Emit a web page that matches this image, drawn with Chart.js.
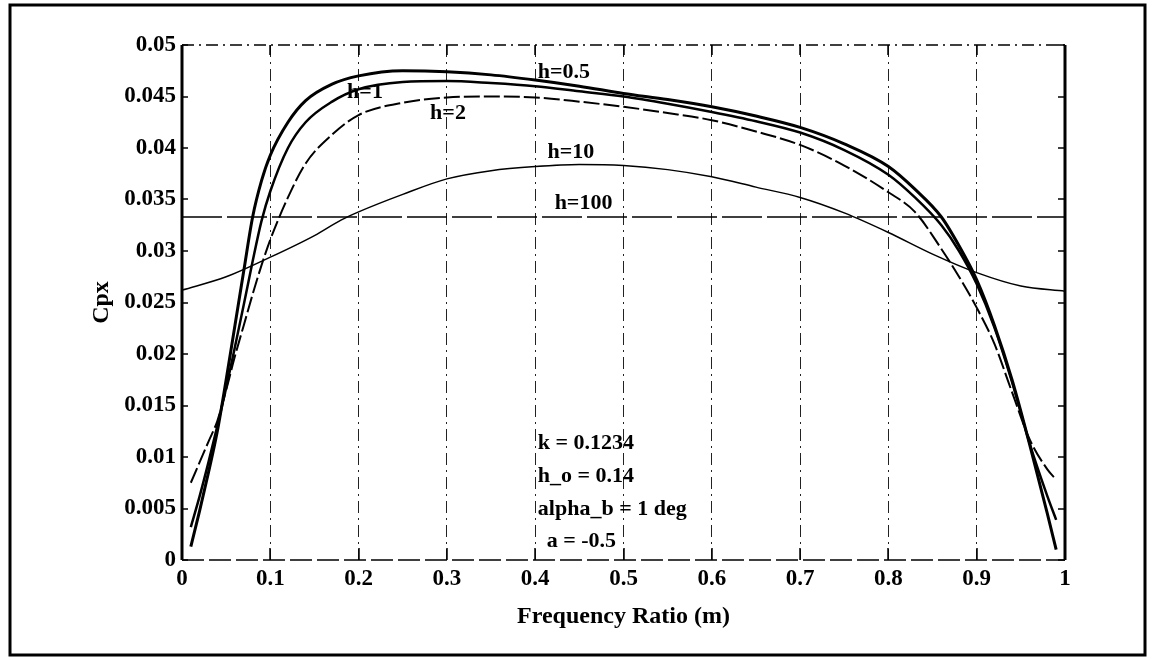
<!DOCTYPE html>
<html>
<head>
<meta charset="utf-8">
<script src="https://cdn.jsdelivr.net/npm/chart.js@4.4.0/dist/chart.umd.min.js"></script>
<style>
html,body{margin:0;padding:0;background:#fff;}
#wrap{width:1153px;height:660px;position:relative;}
</style>
</head>
<body>
<div id="wrap"><canvas id="c" width="1153" height="660"></canvas></div>
<script>
// ---- tick values / labels ----
const xTicks = [0,0.1,0.2,0.3,0.4,0.5,0.6,0.7,0.8,0.9,1];
const xTickLabels = ['0','0.1','0.2','0.3','0.4','0.5','0.6','0.7','0.8','0.9','1'];
const yTicks = [0,0.005,0.01,0.015,0.02,0.025,0.03,0.035,0.04,0.045,0.05];
const yTickLabels = ['0','0.005','0.01','0.015','0.02','0.025','0.03','0.035','0.04','0.045','0.05'];

// ---- series (frequency ratio m vs Cpx) ----
const mSteep = [0.01,0.02,0.03,0.04,0.05,0.06,0.07,0.08,0.09,0.10,0.12,0.14,0.17,0.20,0.25,0.30,0.35,0.40,0.45,0.50,0.55,0.60,0.65,0.70,0.75,0.80,0.83,0.86,0.88,0.90,0.92,0.94,0.96,0.98,0.99];
const cpH05 = [0.0013,0.0048,0.0085,0.0125,0.0175,0.0228,0.0281,0.0333,0.0368,0.0393,0.0425,0.0446,0.0462,0.0470,0.0475,0.0474,0.0471,0.0466,0.0460,0.0453,0.0447,0.0440,0.0431,0.0420,0.0404,0.0382,0.0360,0.0333,0.0305,0.0272,0.0228,0.0175,0.0112,0.0045,0.0010];
const cpH1  = [0.0032,0.0062,0.0095,0.0130,0.0167,0.0207,0.0248,0.0290,0.0329,0.0358,0.0400,0.0425,0.0445,0.0457,0.0464,0.0465,0.0463,0.0460,0.0455,0.0450,0.0443,0.0435,0.0426,0.0415,0.0398,0.0374,0.0352,0.0325,0.0300,0.0268,0.0226,0.0173,0.0113,0.0062,0.0039];
const cpH2  = [0.0075,0.0095,0.0115,0.0135,0.0165,0.0198,0.0228,0.0258,0.0286,0.0311,0.0352,0.0385,0.0413,0.0432,0.0444,0.0449,0.0450,0.0449,0.0445,0.0440,0.0434,0.0427,0.0416,0.0403,0.0383,0.0357,0.0338,0.0302,0.0275,0.0245,0.0210,0.0163,0.0117,0.0088,0.0078];
const mH10  = [0,0.05,0.10,0.15,0.18,0.20,0.25,0.30,0.35,0.40,0.45,0.50,0.55,0.60,0.65,0.70,0.75,0.80,0.85,0.90,0.95,1.0];
const cpH10 = [0.0262,0.0275,0.0294,0.0315,0.0330,0.0338,0.0355,0.0370,0.0378,0.0382,0.0384,0.0383,0.0379,0.0372,0.0362,0.0352,0.0337,0.0318,0.0297,0.0279,0.0266,0.0261];
const mH100  = [0,0.25,0.5,0.75,1];
const cpH100 = [0.0333,0.0333,0.0333,0.0333,0.0333];

// ---- text annotations (anchored in data coordinates) ----
const curveNotes = [
  {text:'h=0.5', m:0.403, cp:0.0473},
  {text:'h=1',   m:0.187, cp:0.0454},
  {text:'h=2',   m:0.281, cp:0.0434},
  {text:'h=10',  m:0.414, cp:0.0396},
  {text:'h=100', m:0.422, cp:0.0346}
];
const paramNotes = [
  {text:'k = 0.1234',      m:0.403, cp:0.01136},
  {text:'h_o = 0.14',      m:0.403, cp:0.00816},
  {text:'alpha_b = 1 deg', m:0.403, cp:0.00495},
  {text:'a = -0.5',        m:0.413, cp:0.00184}
];

const zip = (xs, ys) => xs.map((x, i) => ({x: x, y: ys[i]}));
const SERIF = "'Liberation Serif', 'Times New Roman', serif";

const decor = {
  id: 'decor',
  afterDraw(chart) {
    const {ctx, chartArea: a, scales: {x, y}} = chart;
    ctx.save();
    ctx.strokeStyle = '#000';
    // top border (dash-dot) and bottom border (dashed)
    ctx.lineWidth = 1.5;
    ctx.setLineDash([12,5,2,5]);
    ctx.beginPath(); ctx.moveTo(a.left, a.top); ctx.lineTo(a.right, a.top); ctx.stroke();
    ctx.setLineDash([22,5]);
    ctx.beginPath(); ctx.moveTo(a.left, a.bottom); ctx.lineTo(a.right, a.bottom); ctx.stroke();
    ctx.setLineDash([]);
    // left/right solid borders
    ctx.lineWidth = 3;
    ctx.beginPath(); ctx.moveTo(a.left, a.top); ctx.lineTo(a.left, a.bottom); ctx.stroke();
    ctx.beginPath(); ctx.moveTo(a.right, a.top); ctx.lineTo(a.right, a.bottom); ctx.stroke();
    // inward tick marks
    ctx.lineWidth = 1.5;
    xTicks.forEach(v => {
      const px = Math.round(x.getPixelForValue(v));
      ctx.beginPath(); ctx.moveTo(px, a.bottom); ctx.lineTo(px, a.bottom - 12); ctx.stroke();
      ctx.beginPath(); ctx.moveTo(px, a.top); ctx.lineTo(px, a.top + 10); ctx.stroke();
    });
    yTicks.forEach(v => {
      const py = Math.round(y.getPixelForValue(v));
      ctx.beginPath(); ctx.moveTo(a.left, py); ctx.lineTo(a.left + 6, py); ctx.stroke();
      ctx.beginPath(); ctx.moveTo(a.right, py); ctx.lineTo(a.right - 7, py); ctx.stroke();
    });
    // annotations
    ctx.fillStyle = '#000';
    ctx.textAlign = 'left';
    ctx.textBaseline = 'middle';
    ctx.font = "bold 22px " + SERIF;
    curveNotes.concat(paramNotes).forEach(n => {
      ctx.fillText(n.text, x.getPixelForValue(n.m), y.getPixelForValue(n.cp));
    });
    // outer frame
    ctx.lineWidth = 3;
    ctx.strokeRect(10, 5, 1135, 650);
    ctx.restore();
  }
};

new Chart(document.getElementById('c'), {
  type: 'line',
  data: {
    datasets: [
      {label:'h=0.5', data: zip(mSteep, cpH05), borderColor:'#000', borderWidth:3, pointRadius:0, cubicInterpolationMode:'monotone'},
      {label:'h=1',   data: zip(mSteep, cpH1),  borderColor:'#000', borderWidth:2.5, pointRadius:0, cubicInterpolationMode:'monotone'},
      {label:'h=2',   data: zip(mSteep, cpH2),  borderColor:'#000', borderWidth:2, borderDash:[16,4], pointRadius:0, cubicInterpolationMode:'monotone'},
      {label:'h=10',  data: zip(mH10, cpH10),   borderColor:'#000', borderWidth:1.5, pointRadius:0, cubicInterpolationMode:'monotone'},
      {label:'h=100', data: zip(mH100, cpH100), borderColor:'#000', borderWidth:1.5, borderDash:[40,5], pointRadius:0}
    ]
  },
  options: {
    responsive: false,
    animation: false,
    events: [],
    layout: {padding: {left: 87, top: 45, right: 88, bottom: 29}},
    plugins: {legend: {display: false}, tooltip: {enabled: false}},
    scales: {
      x: {
        type: 'linear', min: 0, max: 1,
        afterBuildTicks: s => { s.ticks = xTicks.map(v => ({value: v})); },
        afterFit: s => { s.height = 71; },
        ticks: {
          autoSkip: false, maxRotation: 0, padding: 5, color: '#000',
          font: {family: SERIF, size: 23, weight: 'bold'},
          callback: (v, i) => xTickLabels[i]
        },
        grid: {
          drawTicks: false, lineWidth: 1,
          color: c => (c.index === 0 || c.index === xTicks.length - 1) ? 'rgba(0,0,0,0)' : '#222'
        },
        border: {display: false, dash: [12,5,2,5]},
        title: {display: true, text: 'Frequency Ratio (m)', color: '#000', padding: 0,
                font: {family: SERIF, size: 24, weight: 'bold', lineHeight: 1.2}}
      },
      y: {
        type: 'linear', min: 0, max: 0.05,
        afterBuildTicks: s => { s.ticks = yTicks.map(v => ({value: v})); },
        afterFit: s => { s.width = 95; },
        ticks: {
          autoSkip: false, padding: 6, color: '#000',
          font: {family: SERIF, size: 23, weight: 'bold'},
          callback: (v, i) => yTickLabels[i]
        },
        grid: {display: false, drawTicks: false},
        border: {display: false},
        title: {display: true, text: 'Cpx', color: '#000', padding: 0,
                font: {family: SERIF, size: 24, weight: 'bold', lineHeight: 1.2}}
      }
    }
  },
  plugins: [decor]
});
</script>
</body>
</html>
